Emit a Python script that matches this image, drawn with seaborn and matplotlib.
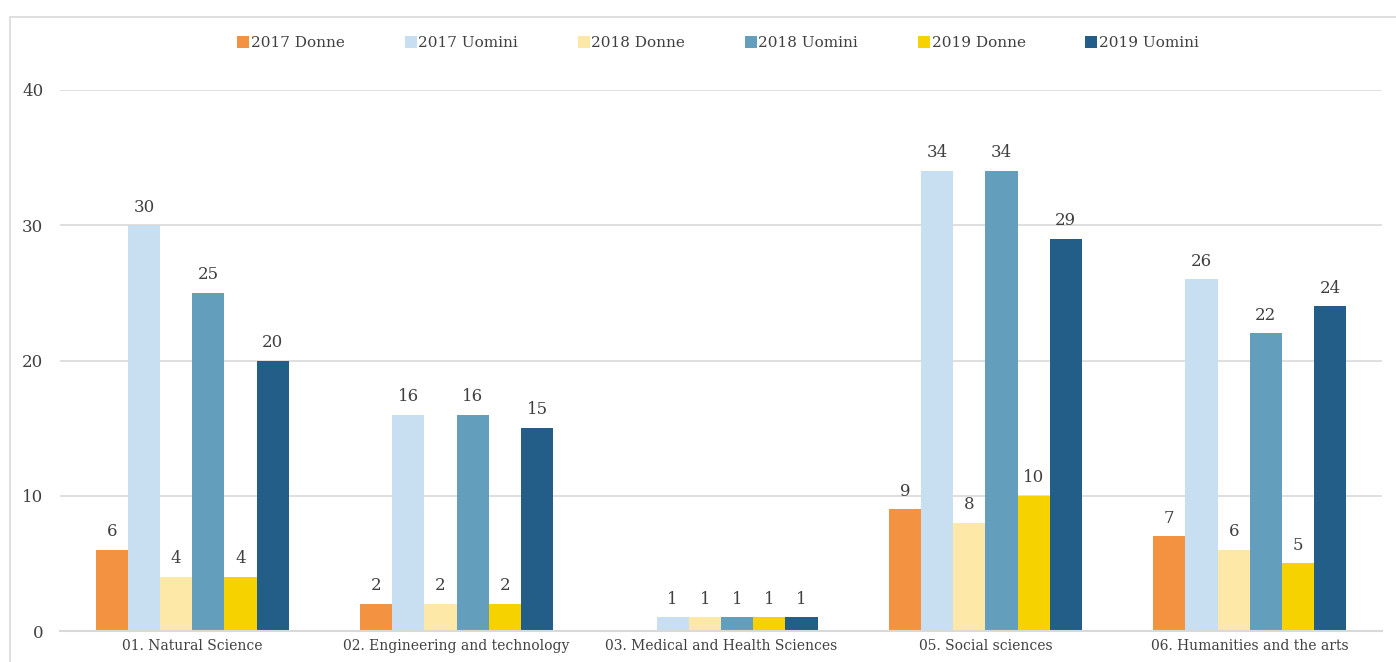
import matplotlib
matplotlib.use("Agg")
import matplotlib.pyplot as plt
import seaborn as sns
import pandas as pd
from matplotlib.patches import Rectangle
from matplotlib.lines import Line2D

categories = [
    "01. Natural Science",
    "02. Engineering and technology",
    "03. Medical and Health Sciences",
    "05. Social sciences",
    "06. Humanities and the arts",
]
series = ["2017 Donne", "2017 Uomini", "2018 Donne", "2018 Uomini", "2019 Donne", "2019 Uomini"]
donne_2017 = [6, 2, 0, 9, 7]
uomini_2017 = [30, 16, 1, 34, 26]
donne_2018 = [4, 2, 1, 8, 6]
uomini_2018 = [25, 16, 1, 34, 22]
donne_2019 = [4, 2, 1, 10, 5]
uomini_2019 = [20, 15, 1, 29, 24]
colors = ["#F39241", "#C8DEF1", "#FEE8A8", "#639EBD", "#F5D200", "#225E88"]

values = [donne_2017, uomini_2017, donne_2018, uomini_2018, donne_2019, uomini_2019]
rows = []
for name, vals in zip(series, values):
    for cat, v in zip(categories, vals):
        rows.append({"Settore": cat, "Serie": name, "Valore": v})
df = pd.DataFrame(rows)

sns.set_theme(style="white")
plt.rcParams["font.family"] = ["DejaVu Serif"]
text_color = "#404040"

fig = plt.figure(figsize=(13.96, 6.62), dpi=100)
ax = fig.add_axes([60 / 1396, 31 / 662, 1322 / 1396, 541 / 662])

sns.barplot(data=df, x="Settore", y="Valore", hue="Serie", order=categories,
            hue_order=series, palette=colors, width=0.73, linewidth=0,
            saturation=1, ax=ax, legend=False)

# value labels above bars; empty bars get no label
for container, vals in zip(ax.containers, values):
    labels = [str(v) if v else "" for v in vals]
    ax.bar_label(container, labels=labels, padding=7, fontsize=12, color=text_color)

ax.set_ylim(0, 40)
ax.set_yticks([0, 10, 20, 30, 40])
ax.set_xlim(-0.5, len(categories) - 0.5)
ax.yaxis.grid(True, color="#D9D9D9", linewidth=1.2)
ax.set_axisbelow(True)
for s in ["top", "right", "left"]:
    ax.spines[s].set_visible(False)
ax.spines["bottom"].set_color("#D9D9D9")
ax.spines["bottom"].set_linewidth(1.5)
ax.tick_params(axis="y", length=0, pad=12, labelsize=12, labelcolor=text_color)
ax.tick_params(axis="x", length=0, pad=6, labelsize=10, labelcolor=text_color)
ax.set_xlabel("")
ax.set_ylabel("")

handles = [Line2D([0], [0], marker="s", linestyle="", markersize=8,
                  markerfacecolor=c, markeredgewidth=0) for c in colors]
fig.legend(handles, series, loc="center", bbox_to_anchor=(718 / 1396, 1 - 43 / 662),
           ncol=6, frameon=False, fontsize=11, labelcolor=text_color,
           handletextpad=0.1, columnspacing=3.9, handlelength=0.8)

# light outer frame around the chart area
fig.patches.append(Rectangle((10 / 1396, -0.1), 1.2, 1 - 17 / 662 + 0.1,
                             transform=fig.transFigure, fill=False,
                             edgecolor="#D9D9D9", linewidth=1.2))

fig.savefig("out.png", dpi=100)
